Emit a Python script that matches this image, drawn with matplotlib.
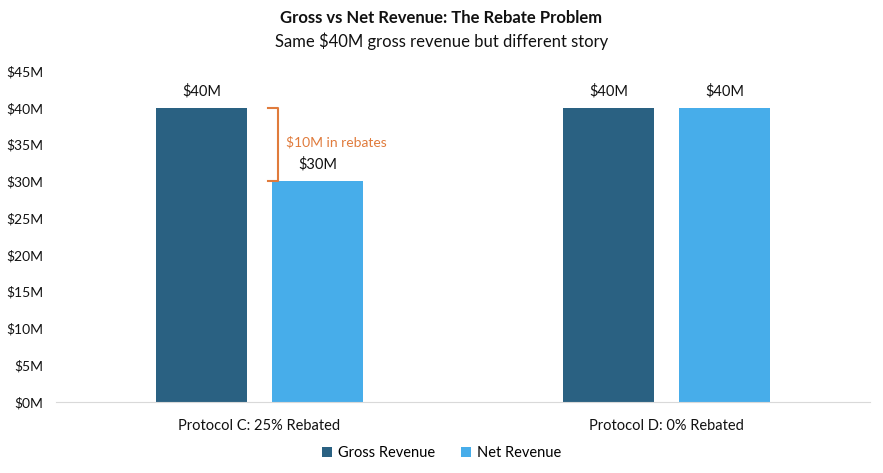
import matplotlib
matplotlib.use("Agg")
import matplotlib.pyplot as plt
import numpy as np

categories = ["Protocol C: 25% Rebated", "Protocol D: 0% Rebated"]
gross = [40, 40]
net = [30, 40]
series_names = ["Gross Revenue", "Net Revenue"]
yticks = [0, 5, 10, 15, 20, 25, 30, 35, 40, 45]

plt.rcParams['font.family'] = ['Lato', 'DejaVu Sans']

gross_color = "#2A6182"
net_color = "#47ADEA"
orange = "#E07B3C"

fig = plt.figure(figsize=(8.83, 4.73), dpi=100)
ax = fig.add_axes([56/883, 1-402/473, 814/883, (402-71)/473])

x = np.arange(len(categories))
w = 0.225
off = 0.1425
b1 = ax.bar(x - off, gross, w, color=gross_color, label=series_names[0])
b2 = ax.bar(x + off, net, w, color=net_color, label=series_names[1])

for bars in (b1, b2):
    for r in bars:
        ax.annotate(f"${r.get_height():.0f}M", (r.get_x() + r.get_width()/2, r.get_height()),
                    xytext=(0, 7), textcoords="offset points", ha="center", va="bottom",
                    fontsize=10.5, color="#111111")

ax.set_xlim(-0.5, 1.5)
ax.set_ylim(0, 45)
ax.set_yticks(yticks)
ax.set_yticklabels([f"${v}M" for v in yticks])
ax.set_xticks(x)
ax.set_xticklabels(categories)
ax.tick_params(axis='both', length=0, labelsize=10.5, colors="#111111")
ax.tick_params(axis='x', pad=12)
ax.tick_params(axis='y', pad=9, labelsize=10)
for s in ["top", "right", "left"]:
    ax.spines[s].set_visible(False)
ax.spines["bottom"].set_color("#D9D9D9")

# bracket for rebates
bx = x[0] - off + w/2 + 0.05
tip = 0.025
ax.plot([bx, bx + tip, bx + tip, bx], [gross[0], gross[0], net[0], net[0]],
        color=orange, lw=1.5, solid_joinstyle="round")
ax.text(bx + tip + 0.02, (gross[0] + net[0]) / 2 + 0.3,
        f"${gross[0]-net[0]:.0f}M in rebates", color=orange, fontsize=10,
        ha="left", va="center")

fig.text(0.5, 0.962, "Gross vs Net Revenue: The Rebate Problem", ha="center", va="center",
         fontsize=12, fontweight="bold", color="#111111")
fig.text(0.5, 0.912, "Same $40M gross revenue but different story", ha="center", va="center",
         fontsize=12, color="#111111")

fig.legend(handles=[b1, b2], labels=series_names, loc="center", bbox_to_anchor=(0.5, 1-453/473),
           ncol=2, frameon=False, fontsize=10.5, handlelength=0.7, handleheight=0.7,
           handletextpad=0.4, columnspacing=1.8)

fig.savefig("out.png", dpi=100)
